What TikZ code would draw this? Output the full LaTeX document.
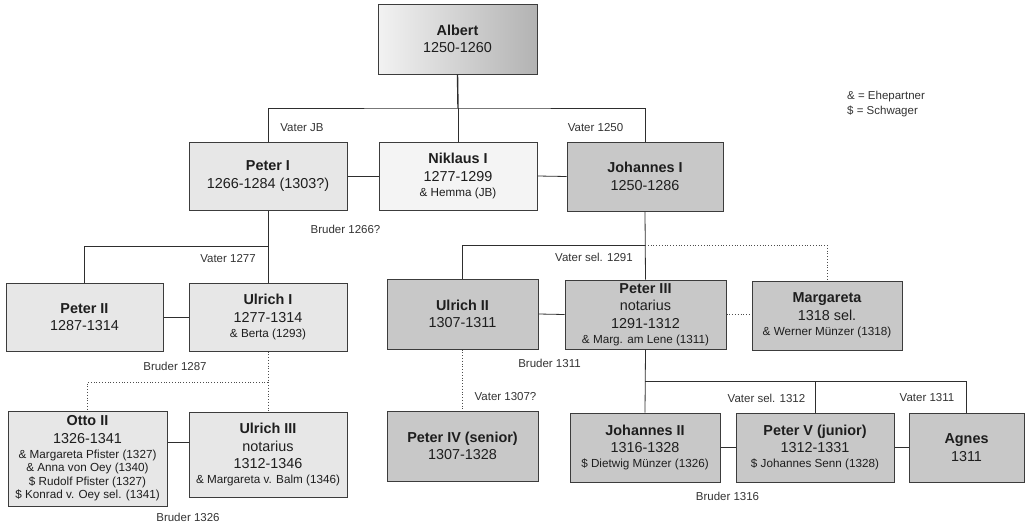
\documentclass[tikz,border=0pt]{standalone}
\usepackage{fontspec}
\setmainfont{Liberation Sans}
\definecolor{linec}{HTML}{2E2E2E}
\definecolor{boxline}{HTML}{3C3C3C}
\definecolor{lightfill}{HTML}{E7E7E7}
\definecolor{palefill}{HTML}{F4F4F4}
\definecolor{darkfill}{HTML}{C8C8C8}
\definecolor{txt}{HTML}{1E1E1E}
\definecolor{lblc}{HTML}{333333}
\newcommand{\smline}[1]{{\fontsize{11.7}{13.5}\selectfont #1}}
\begin{document}
\begin{tikzpicture}[x=1pt,y=-1pt,
  box/.style={draw=boxline, line width=1pt, inner sep=0pt, align=center, text=txt, font=\fontsize{14.4}{17.5}\selectfont},
  lightbox/.style={box, fill=lightfill},
  palebox/.style={box, fill=palefill},
  darkbox/.style={box, fill=darkfill},
  conn/.style={draw=linec, line width=0.8pt},
  mainconn/.style={draw=linec, line width=1.4pt},
  dotconn/.style={draw=linec!85, line width=0.8pt, dotted},
  lbl/.style={text=lblc, font=\fontsize{11.5}{13.5}\selectfont, inner sep=0pt}
]
\useasboundingbox (0,0) rectangle (1030,525);

% boxes
\node[box, left color=white!95!black, right color=black!30, minimum width=159pt, minimum height=70pt] (albert) at (457.5,39) {\textbf{Albert}\\1250-1260};
\node[lightbox, minimum width=158pt, minimum height=68pt] (peterI) at (268,176) {\textbf{Peter I}\\1266-1284 (1303?)};
\node[palebox, minimum width=158pt, minimum height=68pt] (nik) at (458,176) {\textbf{Niklaus I}\\1277-1299\\[-2.5pt]\smline{\& Hemma (JB)}};
\node[darkbox, minimum width=156pt, minimum height=69pt] (johI) at (645,176.5) {\textbf{Johannes I}\\1250-1286};

\node[lightbox, minimum width=157pt, minimum height=68pt] (peterII) at (84.5,317) {\textbf{Peter II}\\1287-1314};
\node[lightbox, minimum width=158pt, minimum height=68pt] (ulrI) at (268,317) {\textbf{Ulrich I}\\1277-1314\\[-2.5pt]\smline{\& Berta (1293)}};
\node[lightbox, minimum width=159pt, minimum height=95pt] (otto) at (87.5,458.5) {\textbf{Otto II}\\1326-1341\\[-2.5pt]\smline{\& Margareta Pfister (1327)}\\[-4pt]\smline{\& Anna von Oey (1340)}\\[-4pt]\smline{\$ Rudolf Pfister (1327)}\\[-4pt]\smline{\$ Konrad v. Oey sel. (1341)}};
\node[lightbox, minimum width=158pt, minimum height=85pt] (ulrIII) at (268,454.5) {\textbf{Ulrich III}\\notarius\\1312-1346\\[-2.5pt]\smline{\& Margareta v. Balm (1346)}};

\node[darkbox, minimum width=151pt, minimum height=70pt] (ulrII) at (462.5,314) {\textbf{Ulrich II}\\1307-1311};
\node[darkbox, minimum width=161pt, minimum height=69pt] (peterIII) at (645.5,314.5) {\textbf{Peter III}\\notarius\\1291-1312\\[-2.5pt]\smline{\& Marg. am Lene (1311)}};
\node[darkbox, minimum width=150pt, minimum height=69pt] (marg) at (827,315.5) {\textbf{Margareta}\\1318 sel.\\[-2.5pt]\smline{\& Werner Münzer (1318)}};

\node[darkbox, minimum width=151pt, minimum height=70pt] (peterIV) at (462.5,446) {\textbf{Peter IV (senior)}\\1307-1328};
\node[darkbox, minimum width=150pt, minimum height=69pt] (johII) at (645,447.5) {\textbf{Johannes II}\\1316-1328\\[-2.5pt]\smline{\$ Dietwig Münzer (1326)}};
\node[darkbox, minimum width=158pt, minimum height=69pt] (peterV) at (815,447.5) {\textbf{Peter V (junior)}\\1312-1331\\[-2.5pt]\smline{\$ Johannes Senn (1328)}};
\node[darkbox, minimum width=115pt, minimum height=69pt] (agnes) at (966.5,447.5) {\textbf{Agnes}\\1311};

% junction coordinates
\coordinate (b1) at (458,108);
\coordinate (b2) at (268,246);
\coordinate (b3) at (268,382);
\coordinate (b4) at (645,245);
\coordinate (b5) at (645,381);
\coordinate (ob) at (178,442);

% connectors
\draw[mainconn] (albert.south) -- (b1);
\draw[conn] (peterI.north) |- (b1) -| (johI.north);
\draw[conn] (b1) -- (nik.north);
\draw[conn] (peterI.east) -- (nik.west);
\draw[conn] (nik.east) -- (johI.west);

\draw[conn] (peterI.south) -- (ulrI.north);
\draw[conn] (b2) -| (peterII.north);
\draw[conn] (peterII.east) -- (ulrI.west);
\draw[dotconn] (ulrI.south) -- (ulrIII.north);
\draw[dotconn] (b3) -| (otto.north);
\draw[conn] (otto.east |- ob) -- (ulrIII.west |- ob);

\draw[conn] (johI.south) -- (peterIII.north);
\draw[conn] (b4) -| (ulrII.north);
\draw[dotconn] (b4) -| (marg.north);
\draw[conn] (ulrII.east) -- (peterIII.west);
\draw[dotconn] (peterIII.east) -- (peterIII.east -| marg.west);
\draw[dotconn] (ulrII.south) -- (peterIV.north);

\draw[conn] (peterIII.south) -- (johII.north);
\draw[conn] (b5) -| (agnes.north);
\draw[conn] (b5 -| peterV.north) -- (peterV.north);
\draw[conn] (johII.east) -- (peterV.west);
\draw[conn] (peterV.east) -- (agnes.west);

% labels
\node[lbl] (l1) at (302,128) {Vater JB};
\node[lbl] (l2) at (595.5,128) {Vater 1250};
\node[lbl] (l3) at (345.5,229) {Bruder 1266?};
\node[lbl] (l4) at (228,259) {Vater 1277};
\node[lbl] (l5) at (175,366) {Bruder 1287};
\node[lbl] (l6) at (188,517) {Bruder 1326};
\node[lbl] (l7) at (594,257) {Vater sel. 1291};
\node[lbl] (l8) at (549.5,363) {Bruder 1311};
\node[lbl] (l9) at (505.5,397) {Vater 1307?};
\node[lbl] (l10) at (766.5,398) {Vater sel. 1312};
\node[lbl] (l11) at (927,398) {Vater 1311};
\node[lbl] (l12) at (727.5,496) {Bruder 1316};

% legend
\node[lbl, anchor=west] (leg1) at (847,97) {\& = Ehepartner};
\node[lbl, anchor=west] (leg2) at (847,111) {\$ = Schwager};
\end{tikzpicture}
\end{document}
